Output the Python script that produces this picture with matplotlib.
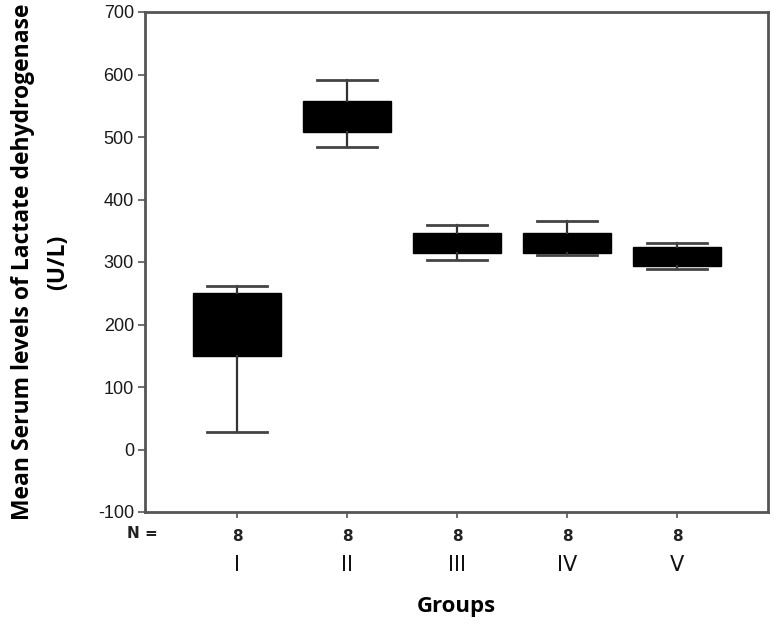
import matplotlib
matplotlib.use("Agg")
import matplotlib.pyplot as plt
import matplotlib.transforms as mtransforms

# values (U/L)
groups = ["I", "II", "III", "IV", "V"]
n_counts = [8, 8, 8, 8, 8]
whisker_low = [28, 484, 304, 311, 289]
q1 = [150, 508, 315, 315, 293]
median = [200, 533, 331, 331, 308]
q3 = [250, 558, 347, 347, 324]
whisker_high = [262, 591, 359, 366, 330]

positions = list(range(1, len(groups) + 1))

stats = []
for i in range(len(groups)):
    stats.append({"whislo": whisker_low[i], "q1": q1[i], "med": median[i],
                  "q3": q3[i], "whishi": whisker_high[i], "fliers": []})

fig = plt.figure(figsize=(7.74, 6.24), dpi=100)
ax = fig.add_axes([145 / 774, 112 / 624, 623 / 774, 500 / 624])

ax.bxp(stats, positions=positions, widths=0.8, capwidths=0.545,
       patch_artist=True, showfliers=False,
       boxprops=dict(facecolor="black", edgecolor="black", linewidth=1),
       medianprops=dict(color="black", linewidth=1),
       whiskerprops=dict(color="#333333", linewidth=1.6),
       capprops=dict(color="#444444", linewidth=2))

ax.set_xlim(0.164, 5.827)
ax.set_ylim(-100, 700)
ax.set_yticks(range(-100, 701, 100))
ax.set_yticklabels(["-100"] + [str(v) for v in range(0, 701, 100)],
                   fontsize=13, color="#1a1a1a", family="Liberation Sans")

# N counts as tick labels
ax.set_xticks(positions)
ax.set_xticklabels([str(n) for n in n_counts], fontsize=11, fontweight="bold",
                   color="#222222")
ax.tick_params(axis="x", length=4, width=1.2, color="#555555", pad=8)
ax.tick_params(axis="y", length=5, width=1.2, color="#555555", pad=3)

for s in ax.spines.values():
    s.set_color("#555555")
    s.set_linewidth(2)

trans = mtransforms.blended_transform_factory(ax.transData, ax.transAxes)
for p, g in zip(positions, groups):
    ax.text(p, -0.106, g, transform=trans, ha="center", va="center",
            fontsize=15, family="Liberation Sans Narrow", color="#111111")
ax.text(-0.005, -0.042, "N =", transform=ax.transAxes, ha="center", va="center",
        fontsize=11, fontweight="bold", color="#222222")

ax.set_xlabel("Groups", fontsize=16, fontweight="bold", family="Open Sans",
              labelpad=38)
ax.set_ylabel("Mean Serum levels of Lactate dehydrogenase\n(U/L)", fontsize=16.5,
              fontweight="bold", family="Open Sans", labelpad=20,
              linespacing=1.6)

fig.savefig("out.png", dpi=100, facecolor="white")
